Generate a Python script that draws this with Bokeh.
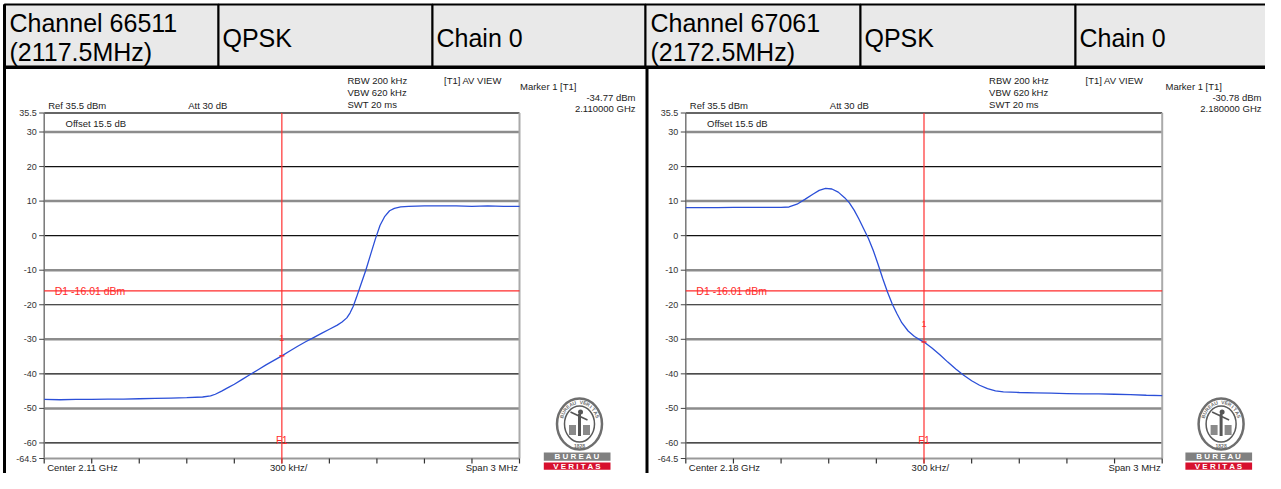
import numpy as np
from bokeh.plotting import figure
from bokeh.models import Range1d
from bokeh.embed import file_html
from bokeh.resources import INLINE
from bokeh.core.properties import value

# ---------------- data ----------------
channels = ["Channel 66511", "Channel 67061"]
channel_freqs = ["(2117.5MHz)", "(2172.5MHz)"]
modulation = ["QPSK", "QPSK"]
chains = ["Chain 0", "Chain 0"]
center_labels = ["Center 2.11 GHz", "Center 2.18 GHz"]
marker_levels = [-34.77, -30.78]
marker_offset_mhz = [0.0, 0.0]
marker_level_text = ["-34.77 dBm", "-30.78 dBm"]
marker_freq_text = ["2.110000 GHz", "2.180000 GHz"]

y_ticks = [35.5, 30, 20, 10, 0, -10, -20, -30, -40, -50, -60, -64.5]
y_tick_labels = ["35.5", "30", "20", "10", "0", "-10", "-20", "-30", "-40", "-50", "-60", "-64.5"]
grid_grey = [30, 10, -10, -30, -50]
grid_black = [20, 0, -20, -40, -60]
x_divs_mhz = [-1.5, -1.2, -0.9, -0.6, -0.3, 0.0, 0.3, 0.6, 0.9, 1.2, 1.5]
ref_level = 35.5
bottom_level = -64.5
span_mhz = 3.0
d1_level = -16.01

# trace 1: offset from centre (MHz) / level (dBm)
trace1_f = [-1.5, -1.4, -1.3, -1.2, -1.1, -1.0, -0.9, -0.8, -0.7, -0.6, -0.5, -0.45,
            -0.42, -0.38, -0.34, -0.3, -0.25, -0.2, -0.15, -0.1, -0.05, 0.0, 0.05, 0.1,
            0.15, 0.2, 0.25, 0.3, 0.35, 0.38, 0.41, 0.43, 0.45, 0.47, 0.5, 0.53, 0.56,
            0.59, 0.62, 0.65, 0.68, 0.71, 0.75, 0.8, 0.9, 1.0, 1.1, 1.2, 1.3, 1.4, 1.5]
trace1_db = [-47.4, -47.5, -47.4, -47.4, -47.3, -47.3, -47.2, -47.1, -47.0, -46.9, -46.7, -46.4,
             -45.9, -45.0, -44.0, -43.0, -41.6, -40.2, -38.8, -37.4, -36.1, -34.8, -33.4, -32.0,
             -30.7, -29.5, -28.3, -27.1, -25.9, -25.0, -23.8, -22.4, -20.5, -18.0, -14.0, -10.0, -5.5,
             -1.0, 3.0, 5.6, 7.2, 7.9, 8.3, 8.5, 8.6, 8.6, 8.6, 8.5, 8.6, 8.5, 8.5]

# trace 2
trace2_f = [-1.5, -1.4, -1.3, -1.2, -1.1, -1.0, -0.9, -0.85, -0.8, -0.75, -0.7, -0.66, -0.62,
            -0.58, -0.54, -0.5, -0.47, -0.44, -0.41, -0.38, -0.35, -0.32, -0.29, -0.26, -0.23,
            -0.2, -0.17, -0.14, -0.1, -0.06, -0.02, 0.0, 0.05, 0.1, 0.15, 0.2, 0.25, 0.3, 0.35,
            0.4, 0.45, 0.5, 0.6, 0.7, 0.8, 0.9, 1.0, 1.1, 1.2, 1.3, 1.4, 1.5]
trace2_db = [8.1, 8.1, 8.1, 8.2, 8.2, 8.2, 8.2, 8.3, 9.1, 10.5, 12.0, 13.1, 13.7,
             13.5, 12.6, 11.0, 9.5, 7.4, 4.8, 2.0, -0.8, -4.2, -8.2, -12.4, -16.3,
             -19.8, -22.6, -25.2, -27.6, -29.2, -30.3, -30.8, -32.5, -34.5, -36.6, -38.6, -40.4, -42.0, -43.3,
             -44.3, -44.9, -45.2, -45.4, -45.5, -45.6, -45.7, -45.8, -45.8, -45.9, -46.0, -46.2, -46.3]

traces = [(trace1_f, trace1_db), (trace2_f, trace2_db)]

# ---------------- layout (picture pixels) ----------------
W, H = 1265, 473
OX, OY = 0, 0
FONT = value("Liberation Sans")
FRAMES = [(43.7, 519.0), (685.3, 1161.7)]
PY0, PY1 = 112.5, 458.0
PANEL_DX = [0.0, 641.6]
MARKER_X = [519.5, 1165.0]
MARKER_RIGHT = [635.0, 1261.0]
BOTTOM_TXT_Y = 466.5
LOGO_CY = 423.5

p = figure(width=W, height=H, x_range=Range1d(OX, OX + W), y_range=Range1d(OY + H, OY),
           output_backend="svg", toolbar_location=None, min_border=0,
           x_axis_location=None, y_axis_location=None, title=None)
p.grid.visible = False
p.outline_line_color = None
p.background_fill_color = "white"
p.border_fill_color = "white"

# dB scale shared by both panels
m = (ref_level - bottom_level) / (PY1 - PY0)
p.extra_y_ranges = {"db": Range1d(bottom_level - (OY + H - PY1) * m, ref_level + (PY0 - OY) * m)}
xr = {}
for i, (px0, px1) in enumerate(FRAMES):
    k = span_mhz / (px1 - px0)
    xr["f%d" % i] = Range1d(-span_mhz / 2 - (px0 - OX) * k, span_mhz / 2 + (OX + W - px1) * k)
p.extra_x_ranges = xr

# ---------------- header table ----------------
cell_x = [4, 218, 432, 645, 860, 1075, 1290]
p.quad(left=cell_x[:-1], right=cell_x[1:], top=[4] * 6, bottom=[66] * 6,
       fill_color="#e9e9e9", line_color="black", line_width=2)
for i in range(2):
    x0 = cell_x[3 * i]
    p.text(x=[x0 + 5, x0 + 5], y=[22, 51], text=[channels[i], channel_freqs[i]],
           text_font=FONT, text_font_size="25px", text_baseline="middle", text_color="black")
    p.text(x=[cell_x[3 * i + 1] + 4, cell_x[3 * i + 2] + 4], y=[37, 37],
           text=[modulation[i], chains[i]], text_font=FONT, text_font_size="25px",
           text_baseline="middle", text_color="black")
# panel borders
p.segment(x0=[4, 646.5, 4], y0=[4, 66, 67], x1=[4, 646.5, 1290], y1=[489, 489, 67],
          line_color="black", line_width=3)

# ---------------- the two analyser plots ----------------
def logo(cx):
    cy = LOGO_CY
    p.ellipse(x=cx, y=cy, width=45, height=51, fill_color="white", line_color="#6e6e6e", line_width=2.5)
    p.ellipse(x=cx, y=cy, width=30, height=36, fill_color="white", line_color="#5a5a5a", line_width=1.5)
    letters = list("BUREAU VERITAS")
    th = np.linspace(np.radians(160), np.radians(20), len(letters))
    p.text(x=cx + 19 * np.cos(th), y=cy - 22 * np.sin(th), text=letters, angle=th - np.pi / 2,
           text_font=FONT, text_font_size="5px", text_font_style="bold", text_color="#6e6e6e",
           text_align="center", text_baseline="middle")
    p.text(x=[cx], y=[cy + 21.5], text=["1828"], text_font=FONT, text_font_size="5px",
           text_font_style="bold", text_color="#6e6e6e", text_align="center", text_baseline="middle")
    p.rect(x=[cx - 7, cx + 7], y=[cy + 6, cy + 6], width=7, height=10, fill_color="#8a8a8a", line_color=None)
    p.rect(x=[cx], y=[cy + 1], width=3, height=22, fill_color="#555555", line_color=None)
    p.circle(x=[cx + 1], y=[cy - 12], radius=2.5, fill_color="#555555", line_color=None)
    p.segment(x0=[cx - 9], y0=[cy - 12], x1=[cx + 8], y1=[cy - 4], line_color="#555555", line_width=1.5)
    bt = cy + 28.4
    p.quad(left=[cx - 35.7, cx - 35.7], right=[cx + 31, cx + 31], top=[bt, bt + 10], bottom=[bt + 8.3, bt + 17.3],
           fill_color=["#808080", "#d7102e"], line_color=None)
    p.text(x=[cx - 2.3, cx - 2.3], y=[bt + 4.3, bt + 13.8], text=["B U R E A U", "V E R I T A S"],
           text_font=FONT, text_font_size="8px", text_font_style="bold", text_color="white",
           text_align="center", text_baseline="middle")

for i in range(2):
    fx = "f%d" % i
    dx = PANEL_DX[i]
    px0, px1 = FRAMES[i]
    k = span_mhz / (px1 - px0)
    lo, hi = -span_mhz / 2, span_mhz / 2
    f, db = traces[i]
    common = dict(x_range_name=fx, y_range_name="db")
    small = dict(text_font=FONT, text_font_size="9.5px", text_color="#222222", text_baseline="middle")

    # texts above the frame
    p.text(x=[47.7 + dx, 187.7 + dx, 347 + dx, 347 + dx, 347 + dx, 443.5 + dx, MARKER_X[i]],
           y=[105, 105, 79.5, 91.7, 104, 79.5, 85.7],
           text=["Ref 35.5 dBm", "Att  30 dB", "RBW 200 kHz", "VBW 620 kHz", "SWT 20 ms",
                 "[T1] AV VIEW", "Marker 1 [T1]"], **small)
    p.text(x=[MARKER_RIGHT[i], MARKER_RIGHT[i]], y=[96.7, 108.3],
           text=[marker_level_text[i], marker_freq_text[i]], text_align="right", **small)

    # grid lines
    p.segment(x0=[lo] * len(grid_grey), x1=[hi] * len(grid_grey), y0=grid_grey, y1=grid_grey,
              line_color="#8c8c8c", line_width=2.5, **common)
    p.segment(x0=[lo] * len(grid_black), x1=[hi] * len(grid_black), y0=grid_black, y1=grid_black,
              line_color="#111111", line_width=1.2, **common)
    # frame
    p.segment(x0=[lo, lo, hi, lo], y0=[ref_level, bottom_level, bottom_level, bottom_level],
              x1=[hi, lo, hi, hi], y1=[ref_level, ref_level, ref_level, bottom_level],
              line_color=["#333333", "#777777", "#aaaaaa", "#999999"], line_width=[1.5, 1.5, 2, 2], **common)
    # y ticks + labels
    p.segment(x0=[lo - 5 * k] * len(y_ticks), x1=[lo] * len(y_ticks), y0=y_ticks, y1=y_ticks,
              line_color="#444444", line_width=1, **common)
    p.text(x=[lo] * len(y_ticks), y=y_ticks, text=y_tick_labels, x_offset=-7.5, text_align="right",
           text_font=FONT, text_font_size="9px", text_color="#333333", text_baseline="middle", **common)
    # x division ticks
    p.segment(x0=x_divs_mhz, x1=x_divs_mhz, y0=[bottom_level] * 11, y1=[bottom_level - 5 * m] * 11,
              line_color="#333333", line_width=1.2, **common)
    # bottom labels
    p.text(x=[px0 + 3, 269.5 + dx], y=[BOTTOM_TXT_Y] * 2, text=[center_labels[i], "300 kHz/"], **small)
    p.text(x=[px1 - 1.5], y=[BOTTOM_TXT_Y], text=["Span 3 MHz"], text_align="right", **small)
    p.text(x=[px0 + 21.3], y=[123], text=["Offset 15.5 dB"], **small)

    # display line D1
    p.segment(x0=[lo], x1=[hi], y0=[d1_level], y1=[d1_level], line_color="#ff2a2a", line_width=1.3, **common)
    p.text(x=[lo], y=[d1_level], text=["D1 -16.01 dBm"], x_offset=10.5, text_baseline="alphabetic",
           text_font=FONT, text_font_size="10.5px", text_color="#ff2a2a", **common)
    # marker frequency line
    mx = marker_offset_mhz[i]
    p.segment(x0=[mx], x1=[mx], y0=[ref_level], y1=[bottom_level - 5 * m], line_color="#ff3030",
              line_width=1.2, **common)

    # trace
    p.line(f, db, line_color="#2b4fd8", line_width=1.3, **common)

    # marker annotations
    p.segment(x0=[mx - 2.5 * k], x1=[mx + 2.5 * k], y0=[marker_levels[i]], y1=[marker_levels[i]],
              line_color="#ff2a2a", line_width=1.5, **common)
    p.text(x=[mx], y=[marker_levels[i] + 18 * m], text=["1"], text_align="center", text_baseline="middle",
           text_font=FONT, text_font_size="9px", text_color="#ff2a2a", **common)
    p.text(x=[mx], y=[-60 + 2 * m], text=["F1"], text_align="center", text_baseline="middle",
           text_font=FONT, text_font_size="10px", text_color="#ff2a2a", **common)

    logo(579 + dx)

open("out.html", "w").write(file_html(p, INLINE))
